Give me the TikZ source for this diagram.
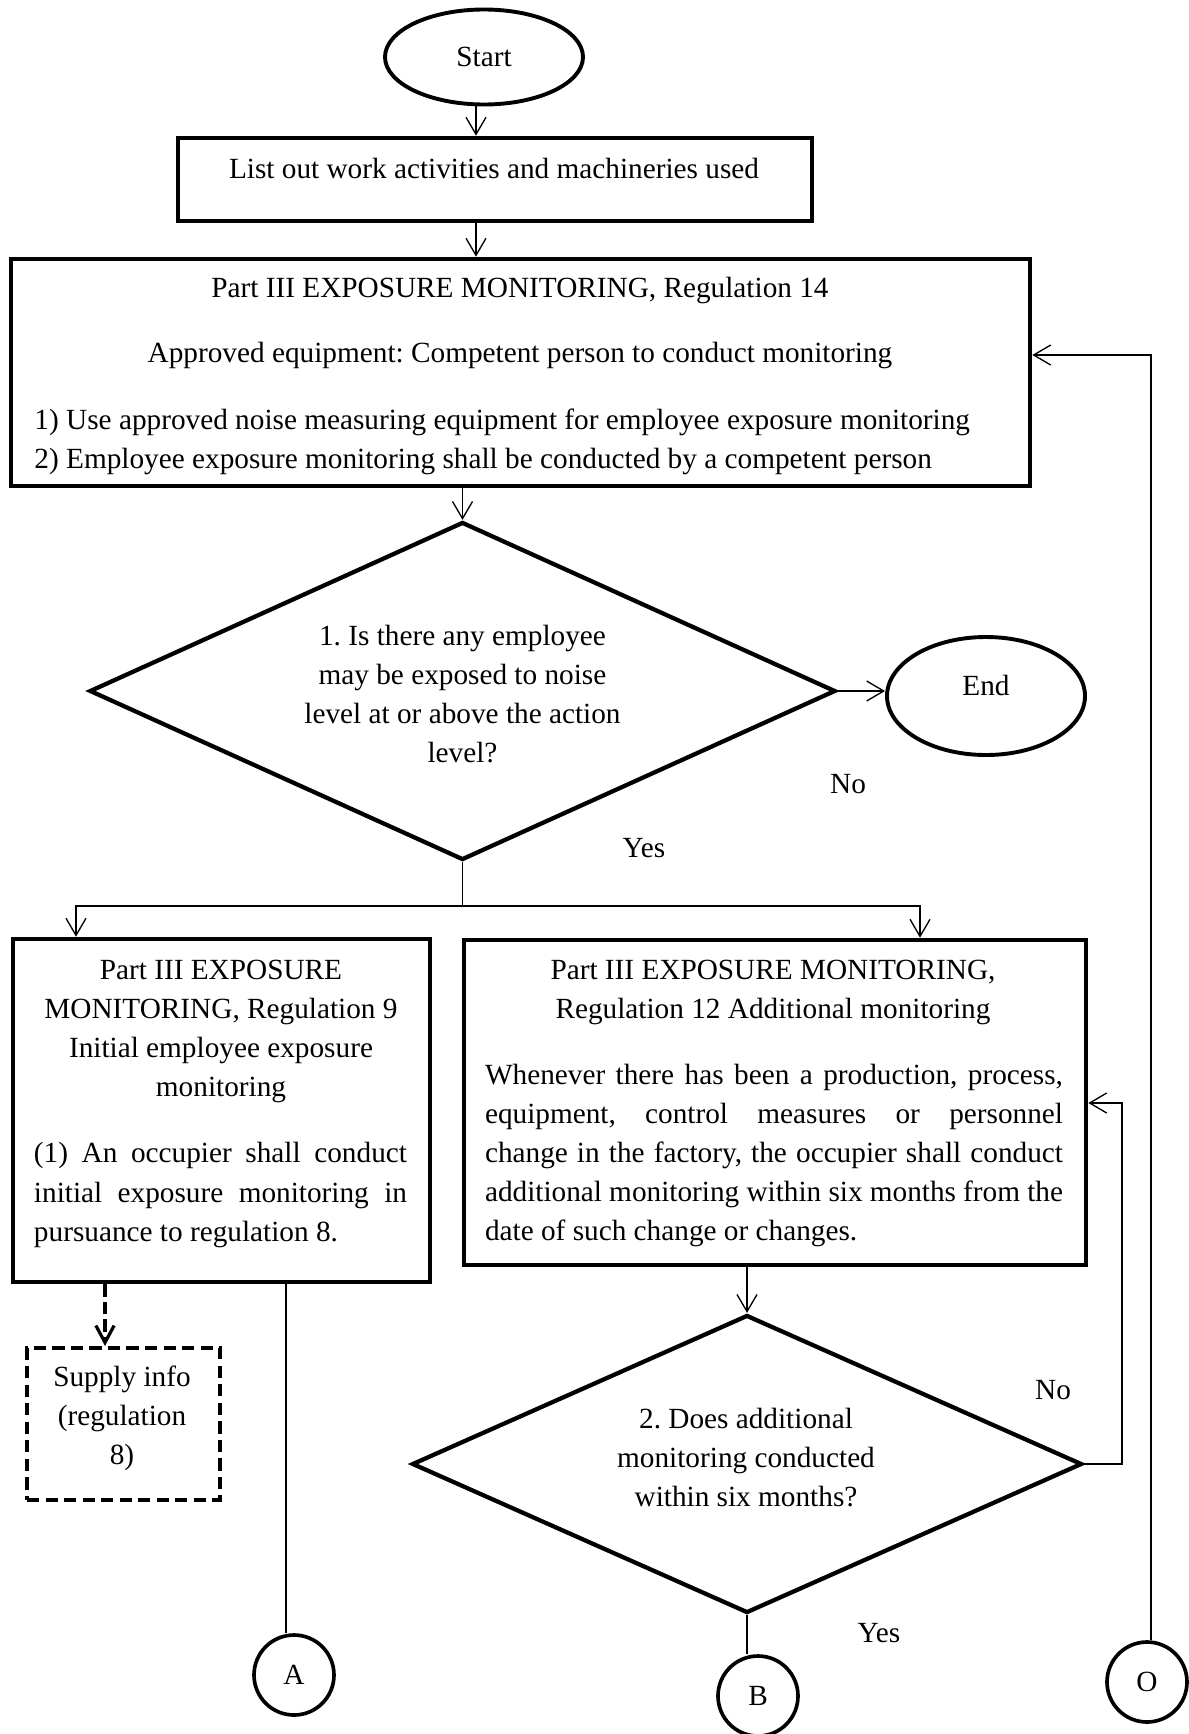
\documentclass[tikz,border=0pt]{standalone}
\usepackage{fontspec}
\setmainfont{Liberation Serif}
\usetikzlibrary{arrows.meta,shapes.geometric}
% one drawing unit = 0.41pt, y axis pointing down
\newcommand{\pxu}{0.41pt}
\hyphenpenalty=10000
\tolerance=10000
\frenchspacing
\begin{document}
\begin{tikzpicture}[x=0.41pt,y=-0.41pt,
  every node/.style={font=\fontsize{12}{16}\selectfont, inner sep=0pt},
  frame/.style={draw, line width=1.9pt, rectangle},
  term/.style={draw, line width=1.6pt, ellipse},
  conn/.style={draw, line width=1.5pt, circle, minimum size=80*\pxu},
  decision/.style={draw, line width=1.75pt, diamond, aspect=2.2},
  dashframe/.style={draw, line width=1.7pt, dash pattern=on 5pt off 2.6pt, rectangle},
  flow/.style={line width=0.55pt, -{Straight Barb[length=7pt,width=8.2pt]}},
  link/.style={line width=0.55pt},
  dashflow/.style={line width=1.3pt, dash pattern=on 5pt off 2.2pt, -{Straight Barb[length=7pt,width=7.5pt]}},
  para/.style={align=justify}
]
\useasboundingbox (0,0) rectangle (1189,1734);

% column / turning points of the connectors
\coordinate (c476) at (476,0);
\coordinate (split) at (0,906);
\coordinate (lcol) at (76,0);
\coordinate (rcol) at (920,0);
\coordinate (dcol) at (105,0);
\coordinate (acol) at (286,0);
\coordinate (noloop) at (1122,1103);
\coordinate (oret) at (1151,355);

% terminals
\node[term, minimum width=198*\pxu, minimum height=95*\pxu] (start) at (484,57) {Start};
\node[term, minimum width=198*\pxu, minimum height=118*\pxu] (end) at (986,696) {};
\node (endtxt) at (986,685) {End};

% process boxes
\node[frame, minimum width=634*\pxu, minimum height=83*\pxu] (acts) at (495,179.5) {};
\node (actstxt) at (494,168) {List out work activities and machineries used};

\node[frame, minimum width=1019*\pxu, minimum height=227*\pxu] (reg14) at (520.5,372.5) {};
\node (reg14h) at (520,291) {Part III EXPOSURE MONITORING, Regulation 14};
\node (reg14a) at (520,355) {Approved equipment: Competent person to conduct monitoring};
\node[anchor=west, align=left] (reg14b) at (34,442) {1) Use approved noise measuring equipment for employee exposure monitoring\\2) Employee exposure monitoring shall be conducted by a competent person};

% first decision
\node[decision, minimum width=746*\pxu, minimum height=338*\pxu] (q1) at (462.5,691) {};
\node[align=center] (q1txt) at (462.5,694.5) {1. Is there any employee\\may be exposed to noise\\level at or above the action\\level?};
\node (no1) at (848,784) {No};
\node (yes1) at (644,848) {Yes};

% regulation 9 box
\node[frame, minimum width=417*\pxu, minimum height=343*\pxu] (reg9) at (221.5,1110.5) {};
\node[align=center] (reg9h) at (221,1031) {Part III EXPOSURE\\MONITORING, Regulation 9\\Initial employee exposure\\monitoring};
\node[para, text width=373*\pxu] (reg9b) at (220.5,1195) {\noindent(1) An occupier shall conduct\linebreak initial exposure monitoring in\linebreak pursuance to regulation 8.};

% regulation 12 box
\node[frame, minimum width=622*\pxu, minimum height=325*\pxu] (reg12) at (775,1102.5) {};
\node[align=center] (reg12h) at (773,992) {Part III EXPOSURE MONITORING,\\Regulation 12 Additional monitoring};
\node[para, text width=578*\pxu] (reg12b) at (774,1155.5) {\noindent Whenever there has been a production, process,\linebreak equipment, control measures or personnel\linebreak change in the factory, the occupier shall conduct\linebreak additional monitoring within six months from the\linebreak date of such change or changes.};

% supply info (dashed)
\node[dashframe, minimum width=193*\pxu, minimum height=152*\pxu] (supply) at (123.5,1424) {};
\node[align=center] (supplytxt) at (122,1418) {Supply info\\(regulation\\8)};

% second decision
\node[decision, minimum width=670*\pxu, minimum height=298*\pxu] (q2) at (747,1464) {};
\node[align=center] (q2txt) at (746,1458) {2. Does additional\\monitoring conducted\\within six months?};
\node (no2) at (1053,1390) {No};
\node (yes2) at (879,1633) {Yes};

% off-page connectors
\node[conn] (A) at (294,1675) {A};
\node[conn] (B) at (758,1696) {B};
\node[conn] (O) at (1147,1682) {O};

% connectors
\draw[flow] (start.south -| c476) -- (acts.north -| c476);
\draw[flow] (acts.south -| c476) -- (reg14.north -| c476);
\draw[flow] (reg14.south -| q1.north) -- (q1.north);
\draw[flow] (q1.east) -- (q1.east -| end.west);
\draw[flow] (q1.south) -- (q1.south |- split) -| (reg9.north -| lcol);
\draw[flow] (q1.south |- split) -| (reg12.north -| rcol);
\draw[dashflow] (reg9.south -| dcol) -- (supply.north -| dcol);
\draw[link] (reg9.south -| acol) -- (A.north -| acol);
\draw[flow] (reg12.south -| q2.north) -- (q2.north);
\draw[flow] (q2.east) -| (noloop) -- (noloop -| reg12.east);
\draw[link] (q2.south) -- (q2.south |- B.north);
\draw[flow] (O.north -| oret) -- (oret) -- (oret -| reg14.east);
\end{tikzpicture}
\end{document}
